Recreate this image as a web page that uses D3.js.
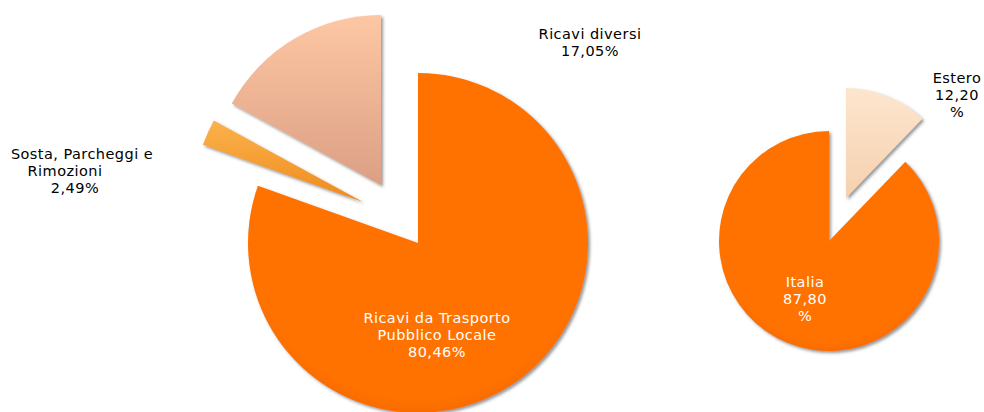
<!DOCTYPE html>
<html>
<head>
<meta charset="utf-8">
<script src="https://d3js.org/d3.v7.min.js"></script>
<style>
  body { margin: 0; background: #fff; }
  text { font-family: "DejaVu Sans", Verdana, sans-serif; font-size: 14.5px; letter-spacing: 0.45px; }
</style>
</head>
<body>
<div id="chart"></div>
<script>
// left pie: composizione ricavi
const leftLabels = ["Ricavi da Trasporto Pubblico Locale", "Sosta, Parcheggi e Rimozioni", "Ricavi diversi"];
const leftValues = [80.46, 2.49, 17.05];
// right pie: ricavi Italia / Estero
const rightLabels = ["Estero", "Italia"];
const rightValues = [12.20, 87.80];

const width = 984, height = 412;
const fmt = v => d3.format(".2f")(v).replace(".", ",");

const svg = d3.select("#chart").append("svg")
    .attr("width", width)
    .attr("height", height);

const defs = svg.append("defs");

const shadow = defs.append("filter").attr("id", "shadow")
    .attr("x", "-10%").attr("y", "-10%").attr("width", "130%").attr("height", "130%");
shadow.append("feDropShadow")
    .attr("dx", 2).attr("dy", 2).attr("stdDeviation", 1.6)
    .attr("flood-color", "#444").attr("flood-opacity", 0.55);

function linGrad(id, c1, c2) {
  const g = defs.append("linearGradient").attr("id", id)
      .attr("x1", 0).attr("y1", 0).attr("x2", 0).attr("y2", 1);
  g.append("stop").attr("offset", "0%").attr("stop-color", c1);
  g.append("stop").attr("offset", "100%").attr("stop-color", c2);
}
function radGrad(id, c1, c2) {
  const g = defs.append("radialGradient").attr("id", id)
      .attr("cx", "50%").attr("cy", "45%").attr("r", "60%");
  g.append("stop").attr("offset", "0%").attr("stop-color", c1);
  g.append("stop").attr("offset", "85%").attr("stop-color", c1);
  g.append("stop").attr("offset", "100%").attr("stop-color", c2);
}
radGrad("gOrange", "#ff7200", "#ee6400");
linGrad("gSosta", "#fbb24c", "#f08a1c");
linGrad("gDiversi", "#fdc7a4", "#dc9f84");
linGrad("gEstero", "#fde6cf", "#f5d0ae");

const pie = d3.pie().sort(null).value(d => d);

function drawPie(values, cx, cy, r, fills, offsets) {
  const arc = d3.arc().innerRadius(0).outerRadius(r);
  const g = svg.append("g").attr("transform", `translate(${cx},${cy})`);
  const arcs = pie(values);
  g.selectAll("path.slice").data(arcs)
    .join("path")
      .attr("class", "slice")
      .attr("d", arc)
      .attr("transform", (d, i) => `translate(${offsets[i][0]},${offsets[i][1]})`)
      .attr("fill", (d, i) => `url(#${fills[i]})`)
      .attr("filter", "url(#shadow)");
  return { g, arcs, arc };
}

function addLabel(x, y, lines, color, dxs) {
  const t = svg.append("text")
      .attr("text-anchor", "middle")
      .attr("fill", color);
  lines.forEach((l, i) => {
    t.append("tspan")
      .attr("x", x + (dxs ? dxs[i] : 0))
      .attr("y", y + i * 17)
      .text(l);
  });
}

// left pie
drawPie(leftValues, 418, 243, 170,
  ["gOrange", "gSosta", "gDiversi"],
  [[0, 0], [-55, -41], [-37, -58]]);

// right pie
drawPie(rightValues, 829, 241, 110,
  ["gEstero", "gOrange"],
  [[17, -43], [0, 0]]);

// labels
addLabel(437, 323, ["Ricavi da Trasporto", "Pubblico Locale", fmt(leftValues[0]) + "%"], "#fff");
addLabel(82, 159, ["Sosta, Parcheggi e", "Rimozioni", fmt(leftValues[1]) + "%"], "#000", [0, -17, -7]);
addLabel(590, 39, ["Ricavi diversi", fmt(leftValues[2]) + "%"], "#000");
addLabel(805, 287, ["Italia", fmt(rightValues[1]), "%"], "#fff");
addLabel(957, 83, ["Estero", fmt(rightValues[0]), "%"], "#000");
</script>
</body>
</html>
